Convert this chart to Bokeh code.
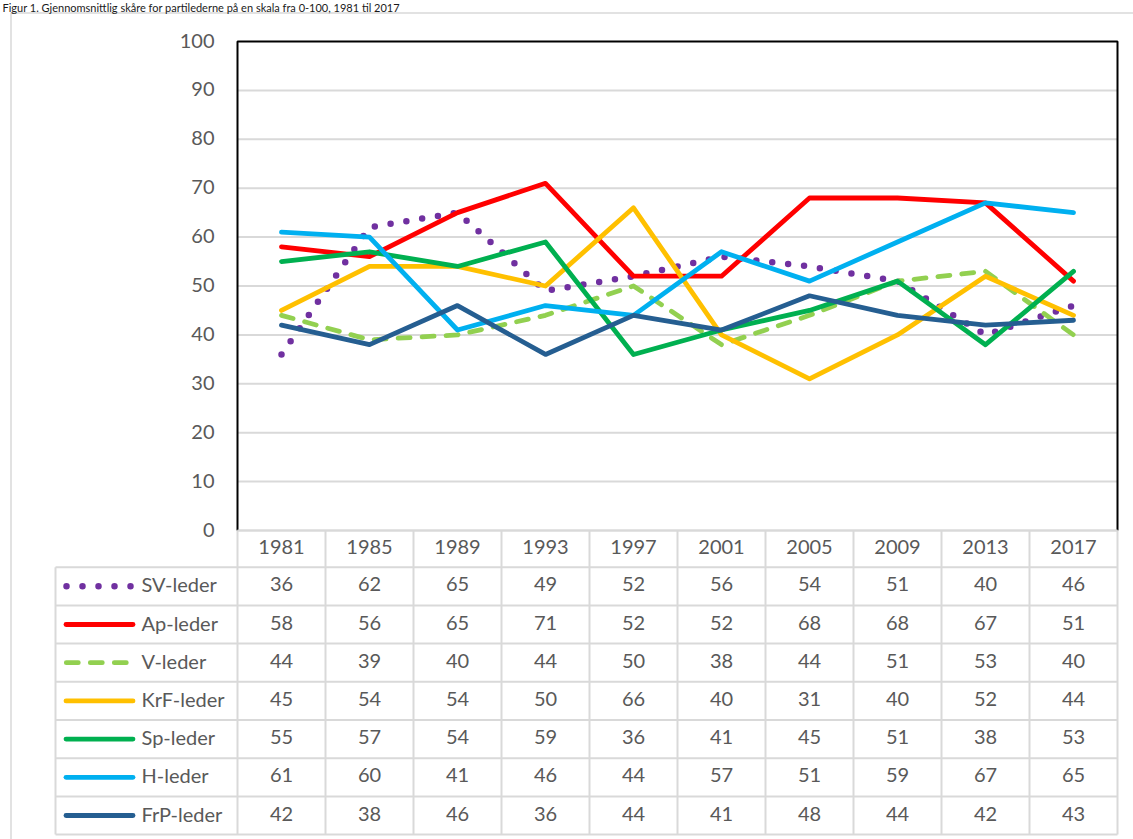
from bokeh.plotting import figure
from bokeh.models import Range1d
from bokeh.core.properties import value
from bokeh.embed import file_html
from bokeh.resources import INLINE

# ---------------- data ----------------
title = "Figur 1. Gjennomsnittlig skåre for partilederne på en skala fra 0-100, 1981 til 2017"
years = ["1981", "1985", "1989", "1993", "1997", "2001", "2005", "2009", "2013", "2017"]
series_names = ["SV-leder", "Ap-leder", "V-leder", "KrF-leder", "Sp-leder", "H-leder", "FrP-leder"]
sv_leder = [36, 62, 65, 49, 52, 56, 54, 51, 40, 46]
ap_leder = [58, 56, 65, 71, 52, 52, 68, 68, 67, 51]
v_leder = [44, 39, 40, 44, 50, 38, 44, 51, 53, 40]
krf_leder = [45, 54, 54, 50, 66, 40, 31, 40, 52, 44]
sp_leder = [55, 57, 54, 59, 36, 41, 45, 51, 38, 53]
h_leder = [61, 60, 41, 46, 44, 57, 51, 59, 67, 65]
frp_leder = [42, 38, 46, 36, 44, 41, 48, 44, 42, 43]
y_ticks = [0, 10, 20, 30, 40, 50, 60, 70, 80, 90, 100]

series_values = [sv_leder, ap_leder, v_leder, krf_leder, sp_leder, h_leder, frp_leder]

# ---------------- styles ----------------
colors = ["#7030A0", "#FF0000", "#92D050", "#FFC000", "#00B050", "#00B0F0", "#255E91"]
dashes = ["0 16", "solid", "12 12", "solid", "solid", "solid", "solid"]
widths = [6.5, 4.8, 4.8, 4.8, 4.8, 4.8, 4.8]
FONT = value("Lato")
TXT = "#595959"
GRID = "#D9D9D9"
TXT_DY = -2

W, H = 1133, 839
PAGE = 0
COL0, COLW = 237, 88          # left edge of first year column, column width (px)
Y0PX, PXU = 530, 4.89         # pixel row of value 0, pixels per unit


def dx(px):
    return (px - COL0) / COLW


def dy(py):
    return (Y0PX - py) / PXU


p = figure(width=W, height=H,
           x_range=Range1d(dx(PAGE), dx(PAGE + W)),
           y_range=Range1d(dy(PAGE + H), dy(PAGE)),
           x_axis_type=None, y_axis_type=None,
           output_backend="svg", toolbar_location=None,
           min_border=0, min_border_left=0, min_border_right=0,
           min_border_top=0, min_border_bottom=0)
p.outline_line_color = None
p.background_fill_color = "white"
p.border_fill_color = "white"
p.grid.visible = False

ncol = len(years)
xc = [i + 0.5 for i in range(ncol)]

# outer chart border
p.line(x=[dx(10.5), dx(10.5), dx(1145)], y=[dy(850), dy(12.5), dy(12.5)],
       line_color=GRID, line_width=1.5)

# title (kept small so it fits above the chart border)
p.text(x=[dx(2)], y=[dy(0.5)], text=[title], text_font=FONT, text_font_size="11px",
       text_color="#1a1a1a", text_align="left", text_baseline="top")

# horizontal gridlines
grid_ticks = [t for t in y_ticks if t != y_ticks[-1]]
p.segment(x0=[0] * len(grid_ticks), x1=[ncol] * len(grid_ticks), y0=grid_ticks, y1=grid_ticks,
          line_color=GRID, line_width=2)

# y tick labels
p.text(x=[dx(214)] * len(y_ticks), y=y_ticks, text=[str(t) for t in y_ticks],
       text_font=FONT, text_font_size="20px", text_color=TXT, y_offset=-1,
       text_align="right", text_baseline="middle")

# series lines
for vals, col, dash, w in zip(series_values, colors, dashes, widths):
    p.line(x=xc, y=vals, line_color=col, line_width=w, line_dash=dash,
           line_cap="round", line_join="round")

# plot-area border (black)
p.line(x=[0, 0, ncol, ncol], y=[y_ticks[0], y_ticks[-1], y_ticks[-1], y_ticks[0]],
       line_color="black", line_width=2)

# ---------------- data table ----------------
header_bottom = 566.7
row_h = 38.2
nrow = len(series_names)
row_edges = [header_bottom + row_h * k for k in range(nrow + 1)]
legend_left = 55

# horizontal table lines
p.segment(x0=[0], x1=[ncol], y0=[0], y1=[0], line_color=GRID, line_width=2)
p.segment(x0=[dx(legend_left)] * len(row_edges), x1=[ncol] * len(row_edges),
          y0=[dy(e) for e in row_edges], y1=[dy(e) for e in row_edges],
          line_color=GRID, line_width=2)
# vertical table lines
p.segment(x0=[dx(legend_left)], x1=[dx(legend_left)], y0=[dy(row_edges[0])], y1=[dy(row_edges[-1])],
          line_color=GRID, line_width=2)
p.segment(x0=list(range(ncol + 1)), x1=list(range(ncol + 1)),
          y0=[0] * (ncol + 1), y1=[dy(row_edges[-1])] * (ncol + 1),
          line_color=GRID, line_width=2)

# header years
p.text(x=xc, y=[dy((Y0PX + header_bottom) / 2)] * ncol, text=years,
       text_font=FONT, text_font_size="20px", text_color=TXT, y_offset=TXT_DY,
       text_align="center", text_baseline="middle")

for r, (name, vals, col, dash, w) in enumerate(zip(series_names, series_values, colors, dashes, widths)):
    cy = dy((row_edges[r] + row_edges[r + 1]) / 2)
    p.text(x=xc, y=[cy] * ncol, text=[str(v) for v in vals],
           text_font=FONT, text_font_size="20px", text_color=TXT, y_offset=TXT_DY,
           text_align="center", text_baseline="middle")
    # legend key
    if dash == "solid":
        lx0, lx1 = 65.5, 132.5
    elif dash.startswith("0 "):
        lx0, lx1 = 66, 131.5
    else:
        lx0, lx1 = 65.8, 126
    p.line(x=[dx(lx0), dx(lx1)], y=[cy, cy], line_color=col, line_width=w, line_dash=dash,
           line_cap="round")
    p.text(x=[dx(141)], y=[cy], text=[name], text_font=FONT, text_font_size="20px",
           text_color=TXT, text_align="left", text_baseline="middle", y_offset=TXT_DY)

open("out.html", "w").write(file_html(p, INLINE))
